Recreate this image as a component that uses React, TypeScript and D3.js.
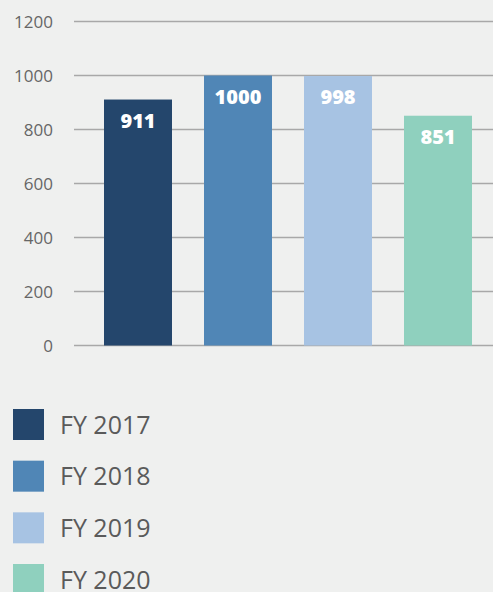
import React, { useRef, useEffect } from 'react';
import * as d3 from 'd3';

const categories = ['FY 2017', 'FY 2018', 'FY 2019', 'FY 2020'];
const values = [911, 1000, 998, 851];
const colors = ['#24466c', '#5086b6', '#a7c3e3', '#8fd0be'];
const yTicks = [0, 200, 400, 600, 800, 1000, 1200];

const W = 493;
const H = 592;

const App = () => {
  const svgRef = useRef<SVGSVGElement>(null);

  useEffect(() => {
    if (!svgRef.current) return;
    const svg = d3.select(svgRef.current);
    svg.selectAll('*').remove();

    svg.append('rect').attr('width', W).attr('height', H).attr('fill', '#eff0ef');

    const x = d3.scaleBand<string>()
      .domain(categories)
      .range([88, 488])
      .paddingInner(0.32)
      .paddingOuter(0.16);

    const y = d3.scaleLinear().domain([0, 1200]).range([345.5, 21.5]);

    // grid lines + tick labels
    const grid = svg.append('g');
    grid.selectAll('line')
      .data(yTicks)
      .enter()
      .append('line')
      .attr('x1', 74)
      .attr('x2', W)
      .attr('y1', d => y(d))
      .attr('y2', d => y(d))
      .attr('stroke', '#a8a8a8')
      .attr('stroke-width', 1.5);

    grid.selectAll('text')
      .data(yTicks)
      .enter()
      .append('text')
      .attr('x', 53)
      .attr('y', d => y(d))
      .attr('dy', '0.36em')
      .attr('text-anchor', 'end')
      .attr('font-family', 'Open Sans, sans-serif')
      .attr('font-size', 17)
      .attr('fill', '#666')
      .text(d => d);

    // bars
    svg.selectAll('.bar')
      .data(values)
      .enter()
      .append('rect')
      .attr('class', 'bar')
      .attr('x', (d, i) => x(categories[i])!)
      .attr('y', d => y(d))
      .attr('width', x.bandwidth())
      .attr('height', d => y(0) - y(d))
      .attr('fill', (d, i) => colors[i]);

    // value labels
    svg.selectAll('.lbl')
      .data(values)
      .enter()
      .append('text')
      .attr('class', 'lbl')
      .attr('x', (d, i) => x(categories[i])! + x.bandwidth() / 2)
      .attr('y', d => y(d) + 28)
      .attr('text-anchor', 'middle')
      .attr('font-family', 'Open Sans, sans-serif')
      .attr('font-weight', 800)
      .attr('font-size', 20)
      .attr('fill', '#fff')
      .text(d => d);

    // legend
    const legend = svg.append('g');
    const ly = d3.scalePoint<string>().domain(categories).range([424.5, 579.5]);
    legend.selectAll('rect')
      .data(categories)
      .enter()
      .append('rect')
      .attr('x', 13)
      .attr('y', d => ly(d)! - 15.5)
      .attr('width', 31)
      .attr('height', 31)
      .attr('fill', (d, i) => colors[i]);

    legend.selectAll('text')
      .data(categories)
      .enter()
      .append('text')
      .attr('x', 60)
      .attr('y', d => ly(d)!)
      .attr('dy', '0.36em')
      .attr('font-family', 'Open Sans, sans-serif')
      .attr('font-size', 25)
      .attr('fill', '#5a5a5a')
      .text(d => d);
  }, []);

  return (
    <svg
      ref={svgRef}
      width={W}
      height={H}
      style={{ position: 'absolute', left: 0, top: 0, display: 'block' }}
    />
  );
};

export default App;
